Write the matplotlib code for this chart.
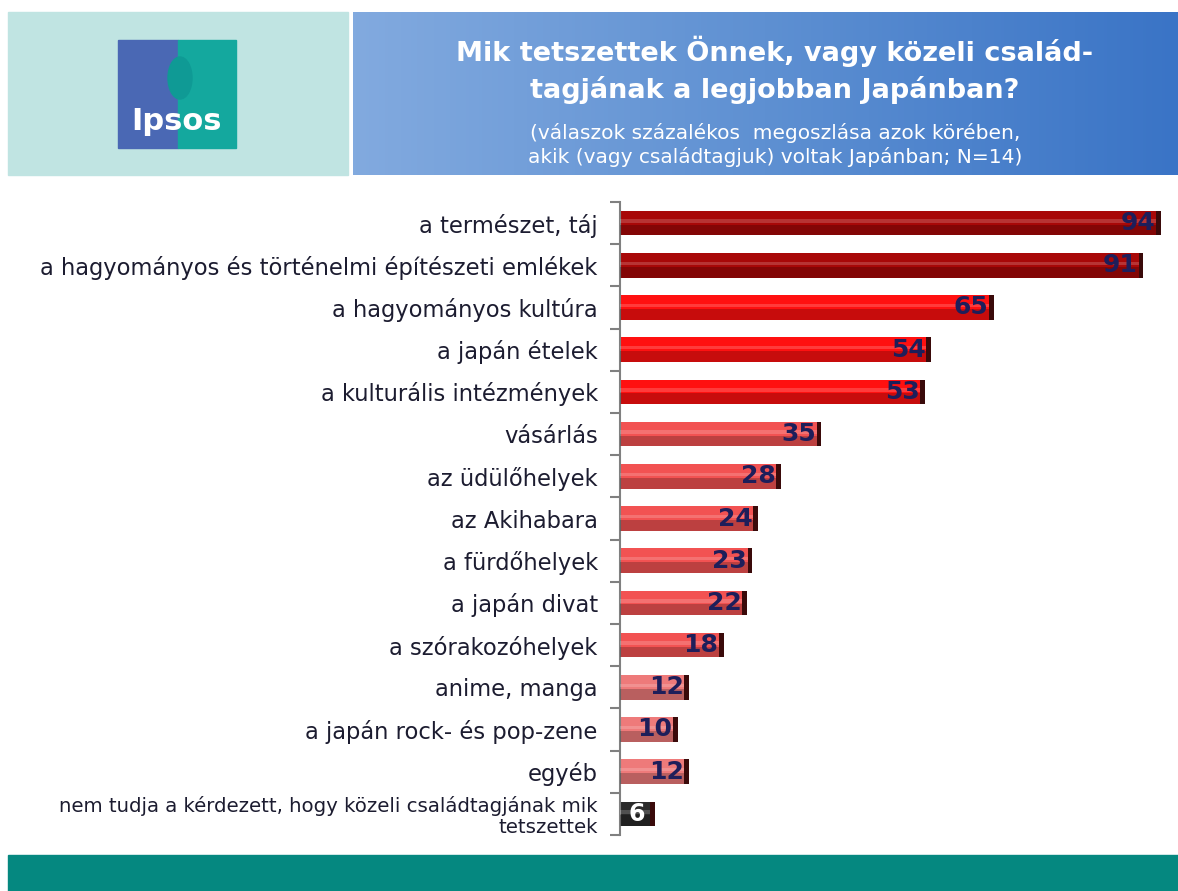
import matplotlib.pyplot as plt
import matplotlib.patches as mpatches
from matplotlib.colors import LinearSegmentedColormap
import numpy as np

categories = [
    "a természet, táj",
    "a hagyományos és történelmi építészeti emlékek",
    "a hagyományos kultúra",
    "a japán ételek",
    "a kulturális intézmények",
    "vásárlás",
    "az üdülőhelyek",
    "az Akihabara",
    "a fürdőhelyek",
    "a japán divat",
    "a szórakozóhelyek",
    "anime, manga",
    "a japán rock- és pop-zene",
    "egyéb",
    "nem tudja a kérdezett, hogy közeli családtagjának mik\ntetszettek",
]
values = [94, 91, 65, 54, 53, 35, 28, 24, 23, 22, 18, 12, 10, 12, 6]
bar_colors = ["#a80808", "#a80808", "#ff1010", "#ff1010", "#ff1010",
              "#f25252", "#f25252", "#f25252", "#f25252", "#f25252", "#f25252",
              "#ee7a7a", "#ee7a7a", "#ee7a7a", "#2a2a2a"]

title = "Mik tetszettek Önnek, vagy közeli család-\ntagjának a legjobban Japánban?"
subtitle = "(válaszok százalékos  megoszlása azok körében,\nakik (vagy családtagjuk) voltak Japánban; N=14)"

W, H = 1178, 891
plt.rcParams['font.family'] = ['DejaVu Sans']
fig = plt.figure(figsize=(W / 100, H / 100), dpi=100)

# background / header in pixel coordinates
bg = fig.add_axes([0, 0, 1, 1])
bg.set_xlim(0, W)
bg.set_ylim(H, 0)
bg.axis("off")
bg.add_patch(mpatches.Rectangle((8, 12), 340, 163, color="#c0e4e2"))
grad = np.linspace(0, 1, 256).reshape(1, -1)
cmap = LinearSegmentedColormap.from_list("hdr", ["#82aadf", "#5e90d2", "#3a74c6"])
bg.imshow(grad, cmap=cmap, extent=[353, W, 175, 12], aspect="auto", zorder=1)
bg.add_patch(mpatches.Rectangle((8, 855), W - 8, 36, color="#058880"))
# logo
bg.add_patch(mpatches.Rectangle((118, 40), 60, 108, color="#4a68b4", zorder=2))
bg.add_patch(mpatches.Rectangle((178, 40), 58, 108, color="#14a89e", zorder=2))
bg.add_patch(mpatches.Ellipse((180, 78), 24, 42, color="#0f9a95", zorder=3))
bg.text(177, 122, "Ipsos", color="white", fontsize=22, fontweight="bold",
        ha="center", va="center", zorder=4)
bg.text(775, 70, title, color="white", fontsize=19.5, fontweight="bold",
        ha="center", va="center", linespacing=1.4, zorder=4)
bg.text(775, 145, subtitle, color="white", fontsize=14.5,
        ha="center", va="center", linespacing=1.3, zorder=4)

ax = fig.add_axes([620 / W, (H - 835) / H, (W - 620) / W, (835 - 202) / H])
y = np.arange(len(categories))
h = 0.58
ax.barh(y, values, height=h, color=bar_colors, zorder=2)
# shading: dark lower band and light highlight stripe
ax.barh(y + h * 0.28, values, height=h * 0.44, color="black", alpha=0.22,
        linewidth=0, zorder=3)
ax.barh(y - h * 0.08, values, height=h * 0.14, color="white", alpha=0.18,
        linewidth=0, zorder=3)
ax.barh(y, [0.8] * len(values), left=np.array(values) - 0.8, height=h,
        color="#3a0a0a", zorder=4)

for i, v in enumerate(values):
    if i == len(values) - 1:
        ax.text(v / 2, i, str(v), color="white", fontsize=17, fontweight="bold",
                ha="center", va="center", zorder=5)
    else:
        ax.text(v - 0.9, i, str(v), color="#1e1e5a", fontsize=18,
                fontweight="bold", ha="right", va="center", zorder=5)

ax.set_xlim(0, (W - 620) / 5.75)
ax.set_ylim(len(categories) - 0.5, -0.5)
ax.set_yticks(y)
ax.set_yticklabels(categories)
for i, lab in enumerate(ax.get_yticklabels()):
    lab.set_color("#1c1c30")
    if i < len(categories) - 1:
        lab.set_fontsize(16.3)
    else:
        lab.set_fontsize(14.2)
        lab.set_linespacing(1.1)
ax.tick_params(axis="y", which="major", length=0, pad=16)
ax.set_yticks(np.arange(-0.5, len(categories), 1), minor=True)
ax.tick_params(axis="y", which="minor", length=7, width=1.5, color="#808080")
ax.set_xticks([])
for s in ["top", "right", "bottom"]:
    ax.spines[s].set_visible(False)
ax.spines["left"].set_color("#808080")
ax.spines["left"].set_linewidth(1.5)
ax.patch.set_alpha(0)

fig.savefig("out.png", dpi=100)
